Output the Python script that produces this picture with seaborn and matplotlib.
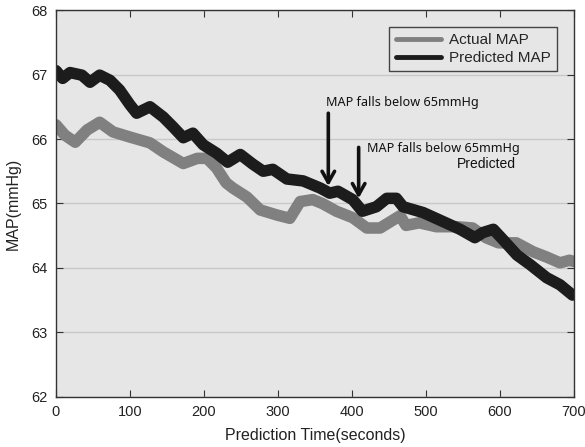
import matplotlib
matplotlib.use("Agg")
import matplotlib.pyplot as plt
import seaborn as sns
import pandas as pd

# ---- data ----
actual_t = [0, 12, 26, 42, 59, 77, 100, 127, 145, 172, 191, 204, 217, 222, 230, 239,
            258, 276, 299, 316, 330, 347, 360, 379, 401, 420, 438, 455, 465, 473, 491,
            514, 541, 563, 581, 598, 622, 645, 663, 681, 694, 700]
actual_v = [66.22, 66.06, 65.95, 66.14, 66.26, 66.11, 66.03, 65.94, 65.80, 65.62, 65.70,
            65.70, 65.55, 65.46, 65.32, 65.24, 65.10, 64.90, 64.82, 64.77, 65.03, 65.06,
            65.00, 64.88, 64.78, 64.62, 64.62, 64.74, 64.81, 64.66, 64.70, 64.64, 64.64,
            64.62, 64.47, 64.39, 64.39, 64.25, 64.17, 64.08, 64.12, 64.10]

pred_t = [0, 9, 19, 35, 46, 59, 73, 86, 100, 109, 127, 145, 158, 172, 185, 199, 217,
          232, 249, 266, 280, 293, 312, 334, 357, 370, 381, 401, 414, 433, 447, 460,
          469, 496, 523, 546, 566, 577, 591, 604, 623, 641, 663, 681, 698]
pred_v = [67.06, 66.94, 67.03, 66.99, 66.88, 66.99, 66.91, 66.76, 66.53, 66.40, 66.50,
          66.34, 66.19, 66.02, 66.09, 65.91, 65.78, 65.64, 65.76, 65.61, 65.50, 65.53,
          65.38, 65.35, 65.24, 65.16, 65.19, 65.06, 64.88, 64.95, 65.08, 65.08, 64.95,
          64.86, 64.72, 64.60, 64.47, 64.55, 64.60, 64.44, 64.20, 64.05, 63.85, 63.74,
          63.58]

series_names = ["Actual MAP", "Predicted MAP"]
x_ticks = [0, 100, 200, 300, 400, 500, 600, 700]
y_ticks = [62, 63, 64, 65, 66, 67, 68]
annot_text = "MAP falls below 65mmHg"
annot_text2 = "Predicted"

df = pd.concat([
    pd.DataFrame({"t": actual_t, "v": actual_v, "s": series_names[0]}),
    pd.DataFrame({"t": pred_t, "v": pred_v, "s": series_names[1]}),
], ignore_index=True)

sns.set_style("ticks", {"axes.facecolor": "#e6e6e6", "axes.edgecolor": "#333333",
                        "grid.color": "#c8c8c8"})
plt.rcParams["font.family"] = ["Liberation Sans", "DejaVu Sans"]

fig = plt.figure(figsize=(5.85, 4.47), dpi=100)
ax = fig.add_axes([0.0957, 0.1119, 0.8855, 0.8657])

sns.lineplot(data=df, x="t", y="v", hue="s", hue_order=series_names,
             palette=["#808080", "#1c1c1c"], ax=ax, sort=False, estimator=None,
             linewidth=8.3, solid_capstyle="round", solid_joinstyle="round")

ax.set_xlim(0, 700)
ax.set_ylim(62, 68)
ax.set_xticks(x_ticks)
ax.set_yticks(y_ticks)
ax.yaxis.grid(True, color="#c8c8c8", linewidth=1)
ax.set_axisbelow(True)
ax.tick_params(direction="in", length=5, width=0.8, top=True, right=True,
               labelsize=10.5, colors="#333333", labelcolor="#222222", pad=6)
for sp in ax.spines.values():
    sp.set_visible(True)
    sp.set_linewidth(1.0)
    sp.set_color("#333333")
ax.set_xlabel("Prediction Time(seconds)", fontsize=11.5, color="#222222", labelpad=6)
ax.set_ylabel("MAP(mmHg)", fontsize=11.5, color="#222222", labelpad=8)

leg = ax.legend(loc="upper right", bbox_to_anchor=(0.967, 0.956), borderaxespad=0,
                fancybox=False, framealpha=1, facecolor="#e6e6e6",
                edgecolor="#444444", fontsize=11, handlelength=3.0,
                handletextpad=0.5, borderpad=0.4, labelspacing=0.25)
for h in leg.get_lines():
    h.set_linewidth(3.5)

afont = ["Noto Sans", "DejaVu Sans"]
arrow_kw = dict(arrowstyle="->,head_length=0.8,head_width=0.45", lw=2.6, color="#111111",
                shrinkA=0, shrinkB=0)
ax.annotate("", xy=(368, 65.27), xytext=(368, 66.4), arrowprops=arrow_kw)
ax.text(365, 66.56, annot_text, fontsize=9.1, family=afont, va="center", ha="left",
        color="#111111")
ax.annotate("", xy=(409, 65.08), xytext=(409, 65.87), arrowprops=arrow_kw)
ax.text(420, 65.86, annot_text, fontsize=9.1, family=afont, va="center", ha="left",
        color="#111111")
ax.text(622, 65.61, annot_text2, fontsize=10, family=["Liberation Sans", "DejaVu Sans"],
        va="center", ha="right", color="#111111")

fig.savefig("out.png", dpi=100, facecolor="white")
